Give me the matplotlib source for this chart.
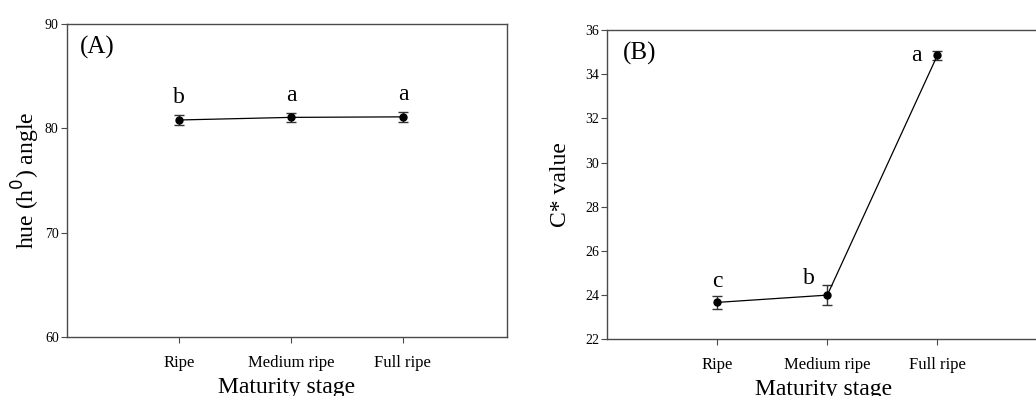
"""Colour attributes of fruit across maturity stages."""

import matplotlib.pyplot as plt

plt.rcParams["font.family"] = ["Liberation Serif", "DejaVu Serif"]

stages = ["Ripe", "Medium ripe", "Full ripe"]
positions = [1, 2, 3]

hue_mean = [80.8, 81.05, 81.1]
hue_err = [0.5, 0.45, 0.5]
hue_letters = ["b", "a", "a"]

chroma_mean = [23.67, 24.0, 34.85]
chroma_err = [0.3, 0.45, 0.2]
chroma_letters = ["c", "b", "a"]
# letter offsets (points) relative to each mean marker
chroma_offsets = [(0, 15), (-13, 12), (-15, 0)]

SPINE = "#4a4a4a"


def style_axes(ax, ylim, yticks):
    ax.set_xlim(0, 3.93)
    ax.set_ylim(*ylim)
    ax.set_yticks(yticks)
    ax.set_xticks(positions)
    ax.set_xticklabels(stages, fontsize=12)
    ax.tick_params(axis="y", labelsize=10, direction="out", length=4,
                   color=SPINE, pad=2)
    ax.tick_params(axis="x", direction="out", length=4, color=SPINE, pad=9)
    ax.tick_params(top=False, right=False)
    for sp in ax.spines.values():
        sp.set_color(SPINE)
        sp.set_linewidth(1.0)
    ax.set_xlabel("Maturity stage", fontsize=17, labelpad=4)


def draw_series(ax, mean, err):
    ax.errorbar(positions, mean, yerr=err, fmt="-o", color="black",
                ecolor="#333333", elinewidth=1.0, capsize=3.5, capthick=1.0,
                markersize=5, linewidth=0.9)


fig = plt.figure(figsize=(10.36, 3.96), dpi=100)

# (A) hue angle
ax1 = fig.add_axes([0.0647, 0.149, 0.4247, 0.7904])
draw_series(ax1, hue_mean, hue_err)
for x, y, s in zip(positions, hue_mean, hue_letters):
    ax1.annotate(s, (x, y), xytext=(0, 16), textcoords="offset points",
                 ha="center", va="center", fontsize=17)
style_axes(ax1, (60, 90), [60, 70, 80, 90])
ax1.set_ylabel("hue (h$^{0}$) angle", fontsize=17, labelpad=2)
ax1.text(0.03, 0.925, "(A)", transform=ax1.transAxes, fontsize=18,
         ha="left", va="center")

# (B) chroma
ax2 = fig.add_axes([0.5862, 0.1432, 0.4173, 0.781])
draw_series(ax2, chroma_mean, chroma_err)
for x, y, s, off in zip(positions, chroma_mean, chroma_letters, chroma_offsets):
    ax2.annotate(s, (x, y), xytext=off, textcoords="offset points",
                 ha="center", va="center", fontsize=17)
style_axes(ax2, (22, 36), list(range(22, 37, 2)))
ax2.set_ylabel("C* value", fontsize=17, labelpad=10)
ax2.text(0.035, 0.925, "(B)", transform=ax2.transAxes, fontsize=18,
         ha="left", va="center")

fig.savefig("out.png", dpi=100)
plt.close(fig)
